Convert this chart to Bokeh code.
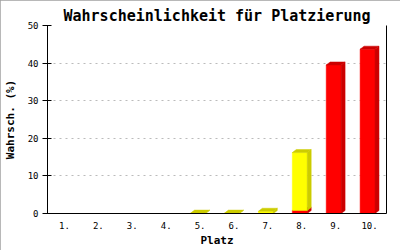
from bokeh.plotting import figure
from bokeh.models import Range1d, FixedTicker, LinearAxis, InlineStyleSheet
from bokeh.embed import file_html
from bokeh.resources import INLINE

# ---- data ----
plaetze = ["1.", "2.", "3.", "4.", "5.", "6.", "7.", "8.", "9.", "10."]
rot = [0, 0, 0, 0, 0, 0, 0, 0.8, 39.5, 43.7]
gelb = [0, 0, 0, 0, 0.1, 0.1, 0.6, 15.4, 0, 0]
y_ticks = [0, 10, 20, 30, 40, 50]

# ---- styling ----
BAR_W = 0.44
DX = 0.117   # 3D depth in x (data units)
DY = 0.8     # 3D depth in y (data units)
MONO = "DejaVu Sans Mono"

p = figure(width=400, height=250, output_backend="svg", toolbar_location=None,
           x_range=Range1d(0.5, 10.5), y_range=Range1d(0, 50),
           min_border_left=43, min_border_right=14, min_border_top=25, min_border_bottom=37,
           title="Wahrscheinlichkeit für Platzierung")
p.stylesheets = [InlineStyleSheet(css=":host { outline: 1px solid #a0a0a0; outline-offset: -1px; }")]

p.title.text_font = MONO
p.title.text_font_size = "15px"
p.title.text_font_style = "bold"
p.title.text_color = "black"
p.title.align = "center"
p.title.standoff = 2
p.outline_line_color = None
p.background_fill_color = "white"
p.border_fill_color = "white"


def add_series(vals, bottoms, front, dark):
    fl, fr, fb, ft = [], [], [], []
    sxs, sys_, txs, tys = [], [], [], []
    for i, (v, b) in enumerate(zip(vals, bottoms)):
        if v <= 0:
            continue
        xc = (i + 1) - DX / 2
        x0, x1 = xc - BAR_W / 2, xc + BAR_W / 2
        top = b + v
        fl.append(x0); fr.append(x1); fb.append(b); ft.append(top)
        sxs.append([x1, x1 + DX, x1 + DX, x1])
        sys_.append([b, b + DY, top + DY, top])
        txs.append([x0, x1, x1 + DX, x0 + DX])
        tys.append([top, top, top + DY, top + DY])
    p.quad(left=fl, right=fr, bottom=fb, top=ft, fill_color=front, line_color=front, line_width=0.5)
    p.patches(xs=sxs, ys=sys_, fill_color=dark, line_color=dark, line_width=0.5)
    p.patches(xs=txs, ys=tys, fill_color=dark, line_color=dark, line_width=0.5)


add_series(rot, [0] * len(rot), "#ff0000", "#cc0000")
add_series(gelb, rot, "#ffff00", "#cccc00")

# ---- axes ----
p.xgrid.grid_line_color = None
p.ygrid.grid_line_color = "#bbbbbb"
p.ygrid.grid_line_dash = "2 4"
p.ygrid.ticker = FixedTicker(ticks=y_ticks)

p.xaxis.ticker = FixedTicker(ticks=list(range(1, len(plaetze) + 1)))
p.xaxis.major_label_overrides = {i + 1: lab for i, lab in enumerate(plaetze)}
p.xaxis.major_tick_line_color = None
p.xaxis.minor_tick_line_color = None
p.xaxis.axis_line_color = "black"
p.xaxis.major_label_text_font = MONO
p.xaxis.major_label_text_font_size = "9px"
p.xaxis.major_label_text_color = "black"
p.xaxis.major_label_standoff = 2
p.xaxis.axis_label = "Platz"
p.xaxis.axis_label_text_font = MONO
p.xaxis.axis_label_text_font_size = "11px"
p.xaxis.axis_label_text_font_style = "bold"
p.xaxis.axis_label_text_color = "black"
p.xaxis.axis_label_standoff = 2

p.yaxis.ticker = FixedTicker(ticks=y_ticks)
p.yaxis.minor_tick_line_color = None
p.yaxis.major_tick_in = 4
p.yaxis.major_tick_out = 5
p.yaxis.axis_line_color = "black"
p.yaxis.major_label_text_font = MONO
p.yaxis.major_label_text_font_size = "9px"
p.yaxis.major_label_text_color = "black"
p.yaxis.major_label_standoff = 4
p.yaxis.axis_label = "Wahrsch. (%)"
p.yaxis.axis_label_text_font = MONO
p.yaxis.axis_label_text_font_size = "11px"
p.yaxis.axis_label_text_font_style = "bold"
p.yaxis.axis_label_text_color = "black"
p.yaxis.axis_label_standoff = 8

right = LinearAxis(ticker=FixedTicker(ticks=[]), major_label_text_font_size="0px",
                   major_tick_line_color=None, minor_tick_line_color=None,
                   axis_line_color="black")
p.add_layout(right, "right")

open("out.html", "w").write(file_html(p, INLINE))
